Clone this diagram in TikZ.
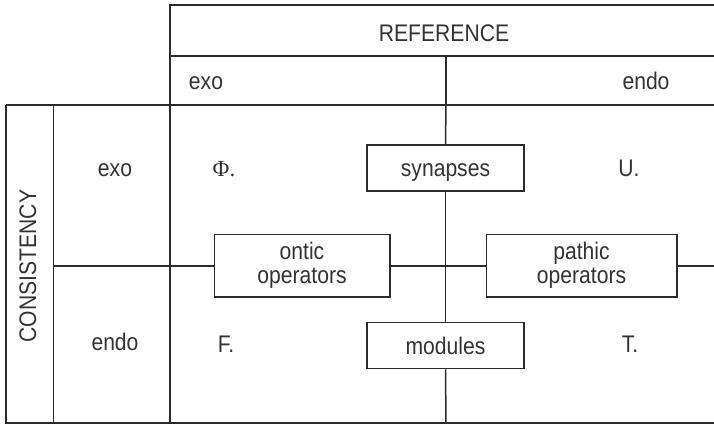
\documentclass[tikz,border=0pt]{standalone}
\usepackage{fontspec}
\setmainfont[FakeStretch=0.88]{Liberation Sans}
\newfontfamily\greekserif{Liberation Serif}
\definecolor{ink}{HTML}{2B2B2B}
\definecolor{txt}{HTML}{333333}
\begin{document}
\begin{tikzpicture}[x=1pt,y=-1pt,
  grid/.style={draw=ink,line width=1.5pt},
  label/.style={text=txt,font=\fontsize{24}{25}\selectfont,inner sep=0pt,anchor=base},
  opbox/.style={draw=ink,line width=1.5pt,fill=white,text=txt,
    font=\fontsize{24}{24.5}\selectfont,align=center,inner sep=0pt},
  onebox/.style={opbox,minimum width=157,minimum height=46,text height=17.5,text depth=0.5},
  link/.style={draw=ink,line width=1.5pt}]
\useasboundingbox (0,0) rectangle (714,426);

% table frame
\draw[grid] (714,5) -- (170,5) -- (170,423);
\draw[grid] (170,56) -- (714,56);
\draw[grid] (6,105) -- (714,105);
\draw[grid] (6,105) -- (6,423) -- (714,423);
\draw[grid] (53.5,105) -- (53.5,423);
\draw[grid] (446,56) -- (446,105);

% headers
\node[label] (ref) at (444,41.7) {REFERENCE};
\node[label] (rexo) at (206,89.3) {exo};
\node[label] (rendo) at (646,89.3) {endo};
\node[label,rotate=90] (cons) at (36,266) {CONSISTENCY};
\node[label] (cexo) at (115,176) {exo};
\node[label] (cendo) at (115,350) {endo};

% quadrant letters
\node[label,font=\greekserif\fontsize{23}{24}\selectfont] (phi) at (224,176.5) {Φ.};
\node[label] (u) at (629,176.5) {U.};
\node[label] (f) at (226,352.7) {F.};
\node[label] (t) at (630,352.7) {T.};

% operator boxes
\node[onebox] (syn) at (445.5,168) {synapses};
\node[onebox] (mod) at (445.5,345.7) {modules};
\node[opbox,minimum width=175.5,minimum height=62.5] (ontic) at (302,265.5) {ontic\\operators};
\node[opbox,minimum width=190.5,minimum height=62.5] (pathic) at (581.5,265.5) {pathic\\operators};

% axis ends
\coordinate (vtop) at (446,105);
\coordinate (vbot) at (446,423);
\coordinate (hleft) at (53.5,266);
\coordinate (hright) at (714,266);

% connectors
\draw[link] (vtop) -- (syn.north);
\draw[link] (syn.south) -- (mod.north);
\draw[link] (mod.south) -- (vbot);
\draw[link] (hleft) -- (hleft -| ontic.west);
\draw[link] (hleft -| ontic.east) -- (hleft -| pathic.west);
\draw[link] (hleft -| pathic.east) -- (hright);
\end{tikzpicture}
\end{document}
